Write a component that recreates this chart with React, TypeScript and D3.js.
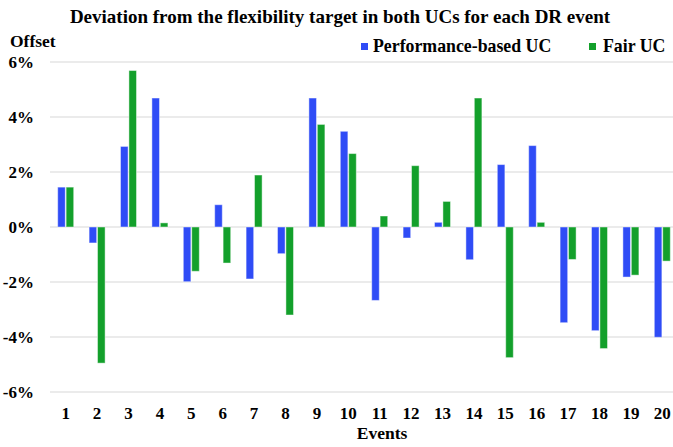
import * as d3 from "d3";

const events = d3.range(1, 21).map(String);
const perfUC = [1.45, -0.58, 2.93, 4.69, -1.99, 0.81, -1.89, -0.97, 4.69, 3.48, -2.67, -0.4, 0.17, -1.19, 2.27, 2.96, -3.48, -3.77, -1.82, -4.01];
const fairUC = [1.45, -4.95, 5.69, 0.15, -1.61, -1.31, 1.89, -3.2, 3.73, 2.67, 0.4, 2.23, 0.93, 4.69, -4.75, 0.17, -1.18, -4.42, -1.75, -1.24];
const yTicks = [-6, -4, -2, 0, 2, 4, 6];
const seriesNames = ["Performance-based UC", "Fair UC"];
const colors = ["#2f4cf6", "#13a02b"];

const W = 673, H = 447;
const FONT = "Liberation Serif";

export default function App() {
  const x = d3.scaleBand().domain(events).range([50, 678]).padding(0);
  const y = d3.scaleLinear().domain([-6, 6]).range([392, 62]);
  const inner = d3.scaleBand().domain(seriesNames).range([0, 16]).paddingInner(0.1);
  const off = (x.bandwidth() - 16) / 2;
  const series = [perfUC, fairUC];

  return (
    <svg width={W} height={H} style={{ position: "absolute", left: 0, top: 0, background: "#fff" }}
      fontFamily={FONT} fontWeight="bold">
      <text x={340} y={23} textAnchor="middle" fontSize={19}>
        Deviation from the flexibility target in both UCs for each DR event
      </text>
      <text x={10} y={47} fontSize={17.5}>Offset</text>

      {/* grid + y labels */}
      {yTicks.map(t => (
        <g key={t}>
          <line x1={50} x2={678} y1={y(t)} y2={y(t)} stroke="#e4e4e4" strokeWidth={1.5} />
          <text x={34} y={y(t)} dy="0.35em" textAnchor="end" fontSize={17}>{`${t}%`}</text>
        </g>
      ))}

      {/* bars */}
      {series.map((vals, si) => (
        <g key={si}>
          {vals.map((v, i) => {
            const bx = (x(events[i]) ?? 0) + off + (inner(seriesNames[si]) ?? 0);
            return (
              <rect key={i} x={bx} width={inner.bandwidth()}
                y={y(Math.max(0, v))} height={Math.abs(y(v) - y(0))}
                fill={colors[si]} stroke="#ffffff" strokeOpacity={0.45} strokeWidth={1} />
            );
          })}
        </g>
      ))}

      {/* x labels */}
      {events.map(e => (
        <text key={e} x={(x(e) ?? 0) + x.bandwidth() / 2} y={419} textAnchor="middle" fontSize={17}>{e}</text>
      ))}
      <text x={382} y={439} textAnchor="middle" fontSize={17.5}>Events</text>

      {/* legend */}
      <rect x={361} y={43} width={7} height={7} fill={colors[0]} />
      <text x={373} y={52} fontSize={17.8}>{seriesNames[0]}</text>
      <rect x={589} y={43} width={7} height={7} fill={colors[1]} />
      <text x={603} y={52} fontSize={17.8}>{seriesNames[1]}</text>
    </svg>
  );
}
